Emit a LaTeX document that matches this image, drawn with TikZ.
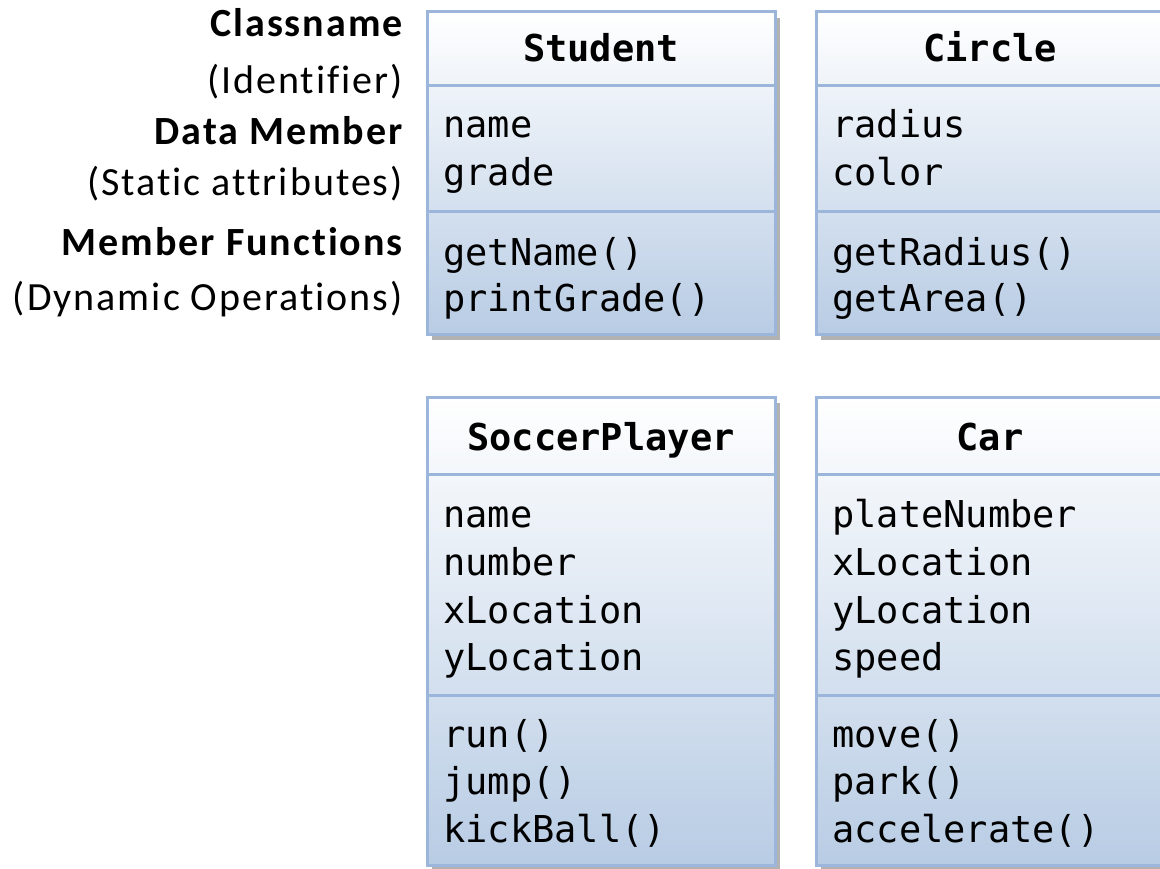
\documentclass[tikz,border=0pt]{standalone}
\usepackage{fontspec}
\setmainfont{Carlito}[LetterSpace=5, Ligatures={NoCommon}]
\setmonofont{DejaVu Sans Mono}
\usetikzlibrary{shadows}

\definecolor{umlline}{RGB}{155,182,218}
\definecolor{umlfill}{RGB}{184,204,228}

\tikzset{
  classbox/.style={draw=umlline, line width=3pt, top color=white, bottom color=umlfill,
    minimum width=348pt, inner sep=0pt,
    drop shadow={shadow xshift=5pt, shadow yshift=-6pt, opacity=.5, fill=black!60}},
  divider/.style={umlline, line width=3pt},
  classname/.style={font=\ttfamily\bfseries\fontsize{37}{40}\selectfont, anchor=base, inner sep=0pt},
  member/.style={font=\ttfamily\fontsize{37}{40}\selectfont, anchor=base west, inner sep=0pt},
  legend/.style={font=\fontsize{40}{42}\selectfont, anchor=base east, inner sep=0pt},
}

\begin{document}
\begin{tikzpicture}[x=1pt,y=-1pt]
    \useasboundingbox (0,0) rectangle (1160,869);

    % left legend
    \foreach \txt/\y [count=\i] in {{\bfseries Classname}/37, (Identifier)/94,
        {\bfseries Data Member}/145, (Static attributes)/196,
        {\bfseries Member Functions}/256, (Dynamic Operations)/311}
        \node[legend] (lbl\i) at (403,\y) {\txt};

    % top row
    \node[classbox, minimum height=322pt] (student) at (601,173) {};
    \node[classbox, minimum height=322pt] (circle) at (990,173) {};
    \draw[divider] (student.west |- 0,86) -- (student.east |- 0,86);
    \draw[divider] (student.west |- 0,212) -- (student.east |- 0,212);
    \draw[divider] (circle.west |- 0,86) -- (circle.east |- 0,86);
    \draw[divider] (circle.west |- 0,212) -- (circle.east |- 0,212);

    \node[classname] (studentname) at (601,62) {Student};
    \node[classname] (circlename) at (990,62) {Circle};
    \foreach \txt/\y [count=\i] in {name/138, grade/186, getName()/266, printGrade()/312}
        \node[member] (stu\i) at (443,\y) {\txt};
    \foreach \txt/\y [count=\i] in {radius/138, color/186, getRadius()/266, getArea()/312}
        \node[member] (cir\i) at (832,\y) {\txt};

    % bottom row
    \node[classbox, minimum height=468pt] (player) at (601,631) {};
    \node[classbox, minimum height=468pt] (car) at (990,631) {};
    \draw[divider] (player.west |- 0,474) -- (player.east |- 0,474);
    \draw[divider] (player.west |- 0,695) -- (player.east |- 0,695);
    \draw[divider] (car.west |- 0,474) -- (car.east |- 0,474);
    \draw[divider] (car.west |- 0,695) -- (car.east |- 0,695);

    \node[classname] (playername) at (601,450) {SoccerPlayer};
    \node[classname] (carname) at (990,450) {Car};
    \foreach \txt/\y [count=\i] in {name/527, number/575, xLocation/623, yLocation/670,
        run()/747, jump()/794, kickBall()/842}
        \node[member] (ply\i) at (443,\y) {\txt};
    \foreach \txt/\y [count=\i] in {plateNumber/527, xLocation/575, yLocation/623, speed/670,
        move()/747, park()/794, accelerate()/842}
        \node[member] (car\i) at (832,\y) {\txt};
\end{tikzpicture}
\end{document}
